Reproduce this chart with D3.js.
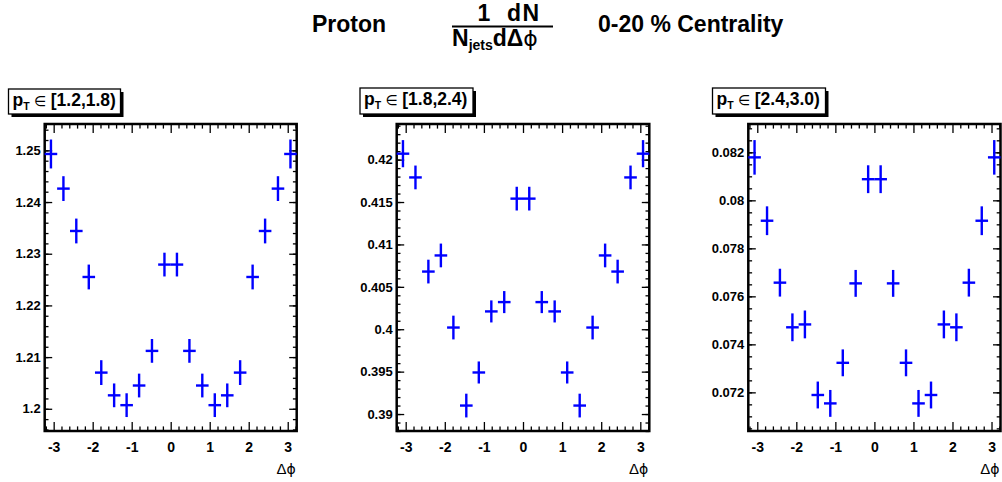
<!DOCTYPE html>
<html><head><meta charset="utf-8">
<script src="https://cdn.jsdelivr.net/npm/d3@7/dist/d3.min.js"></script>
<style>
body{margin:0;background:#fff;}
svg{display:block;font-family:"Liberation Sans",Arial,Helvetica,sans-serif;}
</style></head>
<body>
<svg id="c" width="1002" height="482"></svg>
<script>
// ---- data ----
const dphi = [-3.07,-2.75,-2.42,-2.10,-1.78,-1.45,-1.13,-0.81,-0.48,-0.16,0.16,0.48,0.81,1.13,1.45,1.78,2.10,2.42,2.75,3.07];
const ptLabels = ["[1.2,1.8)","[1.8,2.4)","[2.4,3.0)"];
const vals1 = [1.2493,1.2426,1.2344,1.2255,1.2070,1.2026,1.2007,1.2045,1.2112,1.2279,1.2279,1.2112,1.2045,1.2007,1.2026,1.2070,1.2255,1.2344,1.2426,1.2493];
const errs1 = [0.0028,0.0024,0.0024,0.0024,0.0024,0.0023,0.0023,0.0023,0.0023,0.0023,0.0023,0.0023,0.0023,0.0023,0.0023,0.0024,0.0024,0.0024,0.0024,0.0028];
const vals2 = [0.4207,0.4179,0.4068,0.4087,0.4002,0.3910,0.3949,0.4021,0.4032,0.4154,0.4154,0.4032,0.4021,0.3949,0.3910,0.4002,0.4087,0.4068,0.4179,0.4207];
const errs2 = [0.0016,0.0014,0.0014,0.0014,0.0014,0.0014,0.0013,0.0013,0.0013,0.0014,0.0014,0.0013,0.0013,0.0013,0.0014,0.0014,0.0014,0.0014,0.0014,0.0016];
const vals3 = [0.08179,0.07915,0.07657,0.07471,0.07483,0.07189,0.07154,0.07323,0.07654,0.08088,0.08088,0.07654,0.07323,0.07154,0.07189,0.07483,0.07471,0.07657,0.07915,0.08179];
const errs3 = [0.00072,0.00060,0.00058,0.00058,0.00058,0.00056,0.00056,0.00056,0.00056,0.00058,0.00058,0.00056,0.00056,0.00056,0.00056,0.00058,0.00058,0.00058,0.00060,0.00072];
const xTickVals = [-3,-2,-1,0,1,2,3];
const yTicks1 = [1.2,1.21,1.22,1.23,1.24,1.25];
const yTicks2 = [0.39,0.395,0.4,0.405,0.41,0.415,0.42];
const yTicks3 = [0.072,0.074,0.076,0.078,0.08,0.082];
const binHalf = 0.1615;

// ---- layout ----
const svg = d3.select("#c");
const yTop = 124, yBot = 431;
const panels = [
  {x0:44.7, x1:296.7, ydom:[1.1957,1.2551], vals:vals1, errs:errs1, yt:yTicks1, minor:0.002, box:[8.5,89,112,25]},
  {x0:396.7, x1:649.3, ydom:[0.3880,0.4242], vals:vals2, errs:errs2, yt:yTicks2, minor:0.001, box:[360,88,113,26]},
  {x0:748.3, x1:1000.5, ydom:[0.07039,0.08318], vals:vals3, errs:errs3, yt:yTicks3, minor:0.0005, box:[712.5,88,113,26]}
];
const fmtY = d=>String(+d.toFixed(4));
const fmtX = d=>String(d);

panels.forEach((p,i)=>{
  const x = d3.scaleLinear().domain([-3.23,3.23]).range([p.x0,p.x1]);
  const y = d3.scaleLinear().domain(p.ydom).range([yBot,yTop]);
  const g = svg.append("g");
  const xMinor = d3.range(-16,17).map(v=>v*0.2).filter(v=>Math.abs(v-Math.round(v))>0.01);
  const yMinor = d3.range(Math.ceil(p.ydom[0]/p.minor), Math.floor(p.ydom[1]/p.minor)+1).map(k=>+(k*p.minor).toFixed(5));
  const W = p.x1-p.x0, H = yBot-yTop;
  const styleAxis = sel=>{sel.select(".domain").remove(); sel.selectAll("line").attr("stroke","#000").attr("stroke-width",1.3);};
  // bottom
  g.append("g").attr("transform",`translate(0,${yBot})`)
    .call(d3.axisBottom(x).tickValues(xTickVals).tickSizeInner(-9).tickSizeOuter(0).tickPadding(11).tickFormat(fmtX))
    .call(styleAxis)
    .selectAll("text").attr("font-size",14).attr("font-weight","bold").attr("fill","#000").attr("font-family","Liberation Sans, Arial, sans-serif");
  g.append("g").attr("transform",`translate(0,${yBot})`)
    .call(d3.axisBottom(x).tickValues(xMinor).tickSizeInner(-4.6).tickSizeOuter(0).tickFormat(""))
    .call(styleAxis);
  // top mirror
  g.append("g").attr("transform",`translate(0,${yTop})`)
    .call(d3.axisTop(x).tickValues(xTickVals).tickSizeInner(-9).tickSizeOuter(0).tickFormat(""))
    .call(styleAxis);
  g.append("g").attr("transform",`translate(0,${yTop})`)
    .call(d3.axisTop(x).tickValues(xMinor).tickSizeInner(-4.6).tickSizeOuter(0).tickFormat(""))
    .call(styleAxis);
  // left
  g.append("g").attr("transform",`translate(${p.x0},0)`)
    .call(d3.axisLeft(y).tickValues(p.yt).tickSizeInner(-7.5).tickSizeOuter(0).tickPadding(4).tickFormat(fmtY))
    .call(styleAxis)
    .selectAll("text").attr("font-size",13).attr("font-weight","bold").attr("fill","#000").attr("font-family","Liberation Sans, Arial, sans-serif");
  g.append("g").attr("transform",`translate(${p.x0},0)`)
    .call(d3.axisLeft(y).tickValues(yMinor).tickSizeInner(-3.8).tickSizeOuter(0).tickFormat(""))
    .call(styleAxis);
  // right mirror
  g.append("g").attr("transform",`translate(${p.x1},0)`)
    .call(d3.axisRight(y).tickValues(p.yt).tickSizeInner(-7.5).tickSizeOuter(0).tickFormat(""))
    .call(styleAxis);
  g.append("g").attr("transform",`translate(${p.x1},0)`)
    .call(d3.axisRight(y).tickValues(yMinor).tickSizeInner(-3.8).tickSizeOuter(0).tickFormat(""))
    .call(styleAxis);
  // frame
  g.append("rect").attr("x",p.x0).attr("y",yTop).attr("width",W).attr("height",H)
    .attr("fill","none").attr("stroke","#000").attr("stroke-width",2.5);
  // x title
  const xt = g.append("text").attr("x",p.x1-1).attr("y",474).attr("text-anchor","end")
    .attr("font-size",15).attr("fill","#000");
  xt.append("tspan").text("Δ");
  xt.append("tspan").attr("font-family","DejaVu Sans").attr("font-size",14).text("ϕ");
  // data
  const pts = g.append("g").attr("stroke","#0000ff").attr("stroke-width",2.4);
  dphi.forEach((d,k)=>{
    pts.append("line").attr("x1",x(d)).attr("x2",x(d)).attr("y1",y(p.vals[k]-p.errs[k])).attr("y2",y(p.vals[k]+p.errs[k]));
    pts.append("line").attr("x1",x(d-binHalf)).attr("x2",x(d+binHalf)).attr("y1",y(p.vals[k])).attr("y2",y(p.vals[k]));
  });
  // label box with shadow
  const [bx,by,bw,bh] = p.box;
  g.append("rect").attr("x",bx+3).attr("y",by+3).attr("width",bw).attr("height",bh).attr("fill","#000");
  g.append("rect").attr("x",bx).attr("y",by).attr("width",bw).attr("height",bh).attr("fill","#fff").attr("stroke","#000").attr("stroke-width",1.3);
  const lt = g.append("text").attr("x",bx+4).attr("y",by+17).attr("font-size",17.5).attr("font-weight","bold").attr("fill","#000");
  lt.append("tspan").text("p");
  lt.append("tspan").attr("font-size",10.5).attr("dy",4).text("T");
  lt.append("tspan").attr("dy",-4).attr("font-weight","normal").attr("font-family","DejaVu Sans").attr("font-size",14).text(" ∈ ");
  lt.append("tspan").text(ptLabels[i]);
});

// ---- title ----
const t = svg.append("g").attr("font-weight","bold").attr("fill","#000");
t.append("text").attr("x",312).attr("y",32).attr("font-size",23).text("Proton");
t.append("text").attr("x",598).attr("y",32).attr("font-size",23).text("0-20 % Centrality");
t.append("line").attr("x1",452).attr("x2",553).attr("y1",26.5).attr("y2",26.5).attr("stroke","#000").attr("stroke-width",2);
t.append("text").attr("x",484).attr("y",21).attr("text-anchor","middle").attr("font-size",23).text("1");
t.append("text").attr("x",507).attr("y",21).attr("font-size",23).attr("letter-spacing",1.5).text("dN");
const den = t.append("text").attr("x",452).attr("y",46).attr("font-size",23);
den.append("tspan").text("N");
den.append("tspan").attr("font-size",14).attr("dy",4).text("jets");
den.append("tspan").attr("dy",-4).text("dΔ");
den.append("tspan").attr("font-weight","normal").attr("font-family","DejaVu Sans").attr("font-size",22).text("ϕ");
</script>
</body></html>
